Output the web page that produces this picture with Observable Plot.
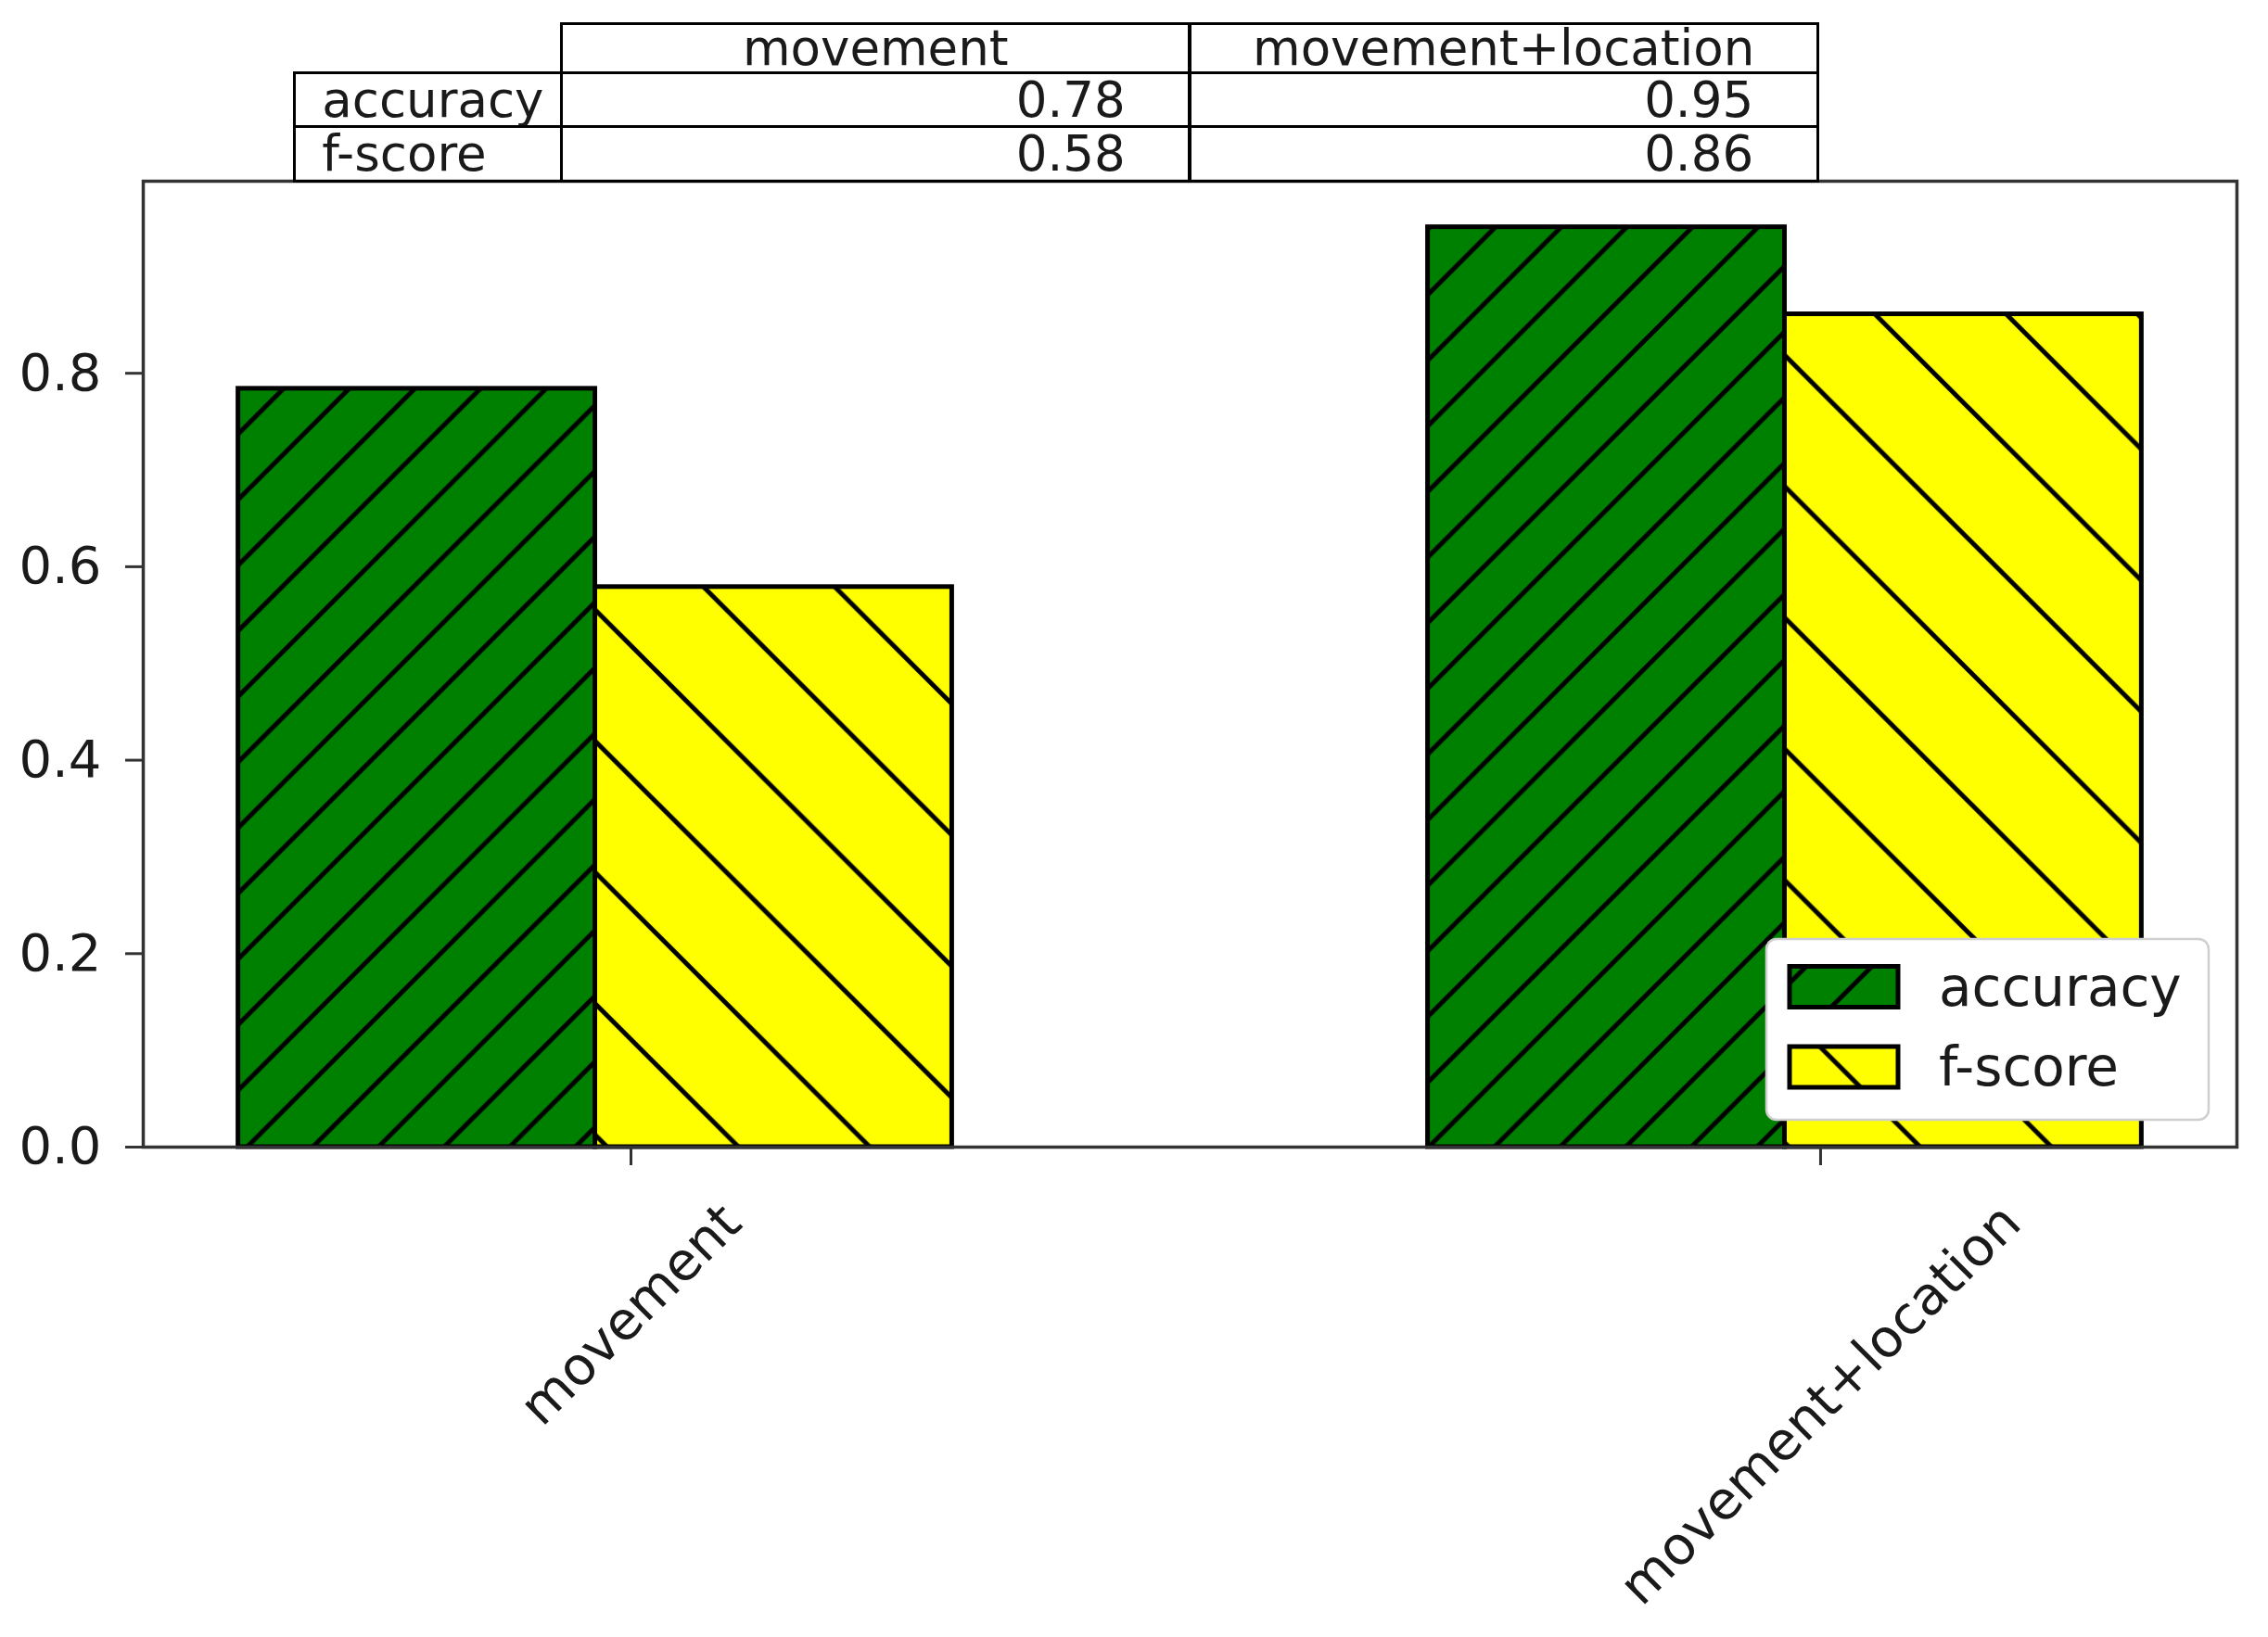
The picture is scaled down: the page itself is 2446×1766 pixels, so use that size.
<!DOCTYPE html>
<html><head><meta charset="utf-8">
<script src="https://cdn.jsdelivr.net/npm/d3@7"></script>
<script src="https://cdn.jsdelivr.net/npm/@observablehq/plot@0.6"></script>
<style>
html,body{margin:0;padding:0;background:#fff;}
#wrap{position:relative;width:2446px;height:1766px;font-family:"DejaVu Sans",sans-serif;color:#1a1a1a;overflow:hidden;}
#wrap svg{position:absolute;left:0;top:0;}
.cell{position:absolute;box-sizing:border-box;border:3px solid #000;white-space:nowrap;font-size:53px;color:#1a1a1a;}
</style></head><body><div id="wrap"></div>
<script>
// ---- data ----
const categories = ["movement", "movement+location"];
const series = ["accuracy", "f-score"];
const accuracy = [0.784, 0.951];
const fscore = [0.579, 0.861];
const yTicks = [0, 0.2, 0.4, 0.6, 0.8];

// ---- layout ----
const W = 2446, H = 1766;
const margin = {left: 154, right: 34, top: 195, bottom: 529};
const barWidth = 0.3;
const seriesOffset = {"accuracy": -0.33, "f-score": -0.03};
const seriesValues = {"accuracy": accuracy, "f-score": fscore};
const fills = {"accuracy": "url(#hatch-acc)", "f-score": "url(#hatch-f)"};
const ink = "#1a1a1a";

const bars = series.flatMap(s => categories.map((c, i) => ({
  series: s, category: c, index: i, value: seriesValues[s][i],
  x1: i + seriesOffset[s], x2: i + seriesOffset[s] + barWidth
})));
const lo = d3.min(bars, d => d.x1), hi = d3.max(bars, d => d.x2);
const pad = (hi - lo) * 0.05;
const yMax = d3.max(bars, d => d.value) * 1.05;

// x tick labels (rotated, bbox centred under tick like matplotlib)
const tickFont = 57;
const ctx = document.createElement("canvas").getContext("2d");
ctx.font = `${tickFont}px "DejaVu Sans"`;
const labelMarks = categories.map((c, i) => {
  const w = ctx.measureText(c).width;
  const h = (w + 1.0 * tickFont) / Math.SQRT2;
  return Plot.text([{c, i}], {
    x: "i", text: "c", frameAnchor: "bottom", dy: 20 + 32 + h / 2,
    rotate: -45, textAnchor: "middle", lineAnchor: "middle",
    fontSize: tickFont, fill: ink
  });
});

const svg = Plot.plot({
  width: W, height: H,
  marginLeft: margin.left, marginRight: margin.right,
  marginTop: margin.top, marginBottom: margin.bottom,
  style: {fontFamily: '"DejaVu Sans", sans-serif', fontSize: "56px", color: ink, background: "white", overflow: "visible"},
  x: {domain: [lo - pad, hi + pad], label: null},
  y: {domain: [0, yMax], label: null},
  marks: [
    ...series.map(s => Plot.rect(bars.filter(d => d.series === s), {
      x1: "x1", x2: "x2", y1: 0, y2: "value",
      fill: fills[s], stroke: "black", strokeWidth: 5
    })),
    Plot.frame({stroke: "#333", strokeWidth: 3.5}),
    Plot.axisY({ticks: yTicks, tickFormat: d3.format(".1f"), tickSize: 19, tickPadding: 26,
      fontSize: 56, stroke: "#333", strokeWidth: 3, fill: ink, label: null}),
    Plot.axisX({ticks: [0, 1], tickFormat: () => "", tickSize: 20, stroke: "#333", strokeWidth: 3, label: null}),
    ...labelMarks
  ]
});

// hatch patterns
const defs = d3.select(svg).insert("defs", ":first-child");
function hatch(id, color, P, dir, px, py) {
  const p = defs.append("pattern").attr("id", id).attr("patternUnits", "userSpaceOnUse")
    .attr("width", P).attr("height", P).attr("x", px).attr("y", py);
  p.append("rect").attr("width", P).attr("height", P).attr("fill", color);
  const d = dir === "/"
    ? `M0,${P}L${P},0M${-P},${P}L${P},${-P}M0,${2*P}L${2*P},0`
    : `M0,0L${P},${P}M0,${-P}L${2*P},${P}M${-P},0L${P},${2*P}`;
  p.append("path").attr("d", d).attr("stroke", "black").attr("stroke-width", 5).attr("fill", "none");
}
hatch("hatch-acc", "#008000", 70.8, "/", 17, 0);
hatch("hatch-f", "#ffff00", 141.6, "\\", 0, 16);

// legend (lower right inside axes)
const plotR = W - margin.right, plotB = H - margin.bottom;
const lw = 477, lh = 195;
const lx0 = plotR - 30 - lw, ly0 = plotB - 29 - lh;
const lg = d3.select(svg).append("g").attr("font-family", '"DejaVu Sans", sans-serif').attr("text-anchor", "start");
lg.append("rect").attr("x", lx0).attr("y", ly0).attr("width", lw).attr("height", lh)
  .attr("rx", 11).attr("fill", "white").attr("stroke", "#cfcfcf").attr("stroke-width", 2.5);
series.forEach((s, k) => {
  const cy = ly0 + 51.5 + k * 86.5;
  lg.append("rect").attr("x", lx0 + 25).attr("y", cy - 22).attr("width", 117).attr("height", 44)
    .attr("fill", fills[s]).attr("stroke", "black").attr("stroke-width", 5);
  lg.append("text").attr("x", lx0 + 186).attr("y", cy).attr("dy", "0.35em")
    .attr("text-anchor", "start").attr("font-size", 58).attr("fill", ink).text(s);
});

const wrap = document.getElementById("wrap");
wrap.appendChild(svg);

// table above the axes
const plotW = W - margin.left - margin.right;
const colW = 0.3 * plotW;
const cx = margin.left + plotW / 2;
const colX = [cx - colW, cx, cx + colW];
const rowLabelX0 = 317;
const rowY = [25, 78, 136.5, 195];
function cell(x0, y0, x1, y1, text, align) {
  const el = document.createElement("div");
  el.className = "cell";
  el.style.left = (x0 - 1.5) + "px";
  el.style.top = (y0 - 1.5) + "px";
  el.style.width = (x1 - x0 + 3) + "px";
  el.style.height = (y1 - y0 + 3) + "px";
  el.style.lineHeight = (y1 - y0 - 3) + "px";
  el.style.textAlign = align;
  const p = 0.1 * (x1 - x0);
  el.style.paddingLeft = align === "left" ? p + "px" : "0px";
  el.style.paddingRight = align === "right" ? p + "px" : "0px";
  el.textContent = text;
  wrap.appendChild(el);
}
categories.forEach((c, j) => cell(colX[j], rowY[0], colX[j + 1], rowY[1], c, "center"));
series.forEach((s, r) => {
  cell(rowLabelX0, rowY[r + 1], colX[0], rowY[r + 2], s, "left");
  categories.forEach((c, j) => cell(colX[j], rowY[r + 1], colX[j + 1], rowY[r + 2], seriesValues[s][j].toFixed(2), "right"));
});
</script></body></html>
